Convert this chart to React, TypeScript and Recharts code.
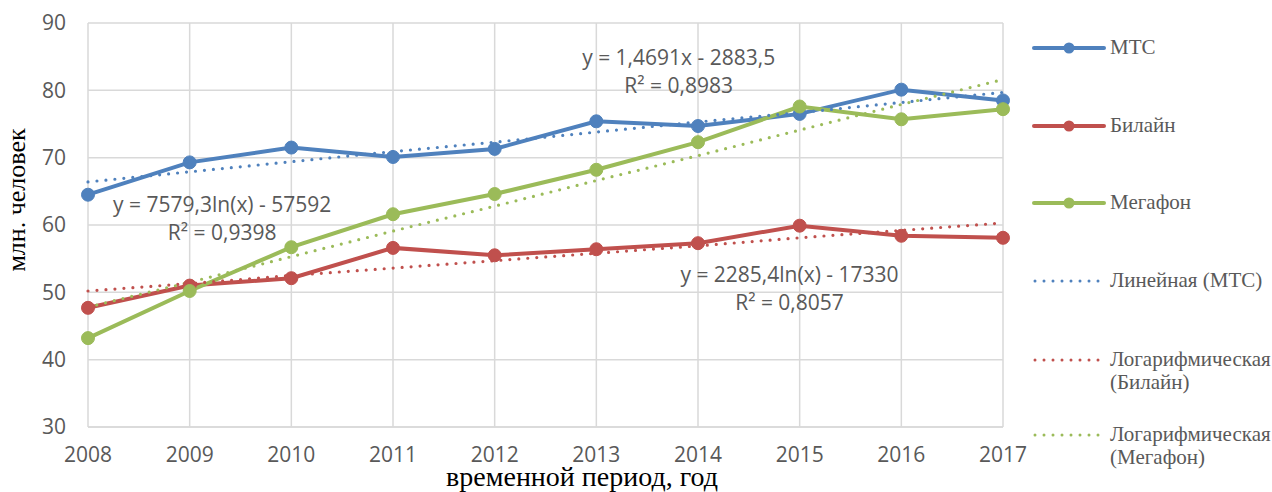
import React from "react";
import {
  CartesianGrid,
  Label,
  Legend,
  Line,
  LineChart,
  ReferenceDot,
  XAxis,
  YAxis,
} from "recharts";

const years = [2008, 2009, 2010, 2011, 2012, 2013, 2014, 2015, 2016, 2017];
const mts = [64.5, 69.3, 71.5, 70.1, 71.3, 75.4, 74.7, 76.5, 80.1, 78.5];
const beeline = [47.7, 51.0, 52.1, 56.6, 55.5, 56.4, 57.3, 59.9, 58.4, 58.1];
const megafon = [43.2, 50.2, 56.7, 61.6, 64.6, 68.2, 72.3, 77.6, 75.7, 77.2];

// trend lines
const mtsTrend = [66.4, 67.9, 69.4, 70.9, 72.3, 73.8, 75.3, 76.7, 78.2, 79.7];
const beelineTrend = [50.2, 51.3, 52.5, 53.6, 54.7, 55.8, 56.9, 58.1, 59.2, 60.3];
const megafonTrend = [47.8, 51.5, 55.3, 59.1, 62.8, 66.6, 70.3, 74.1, 77.9, 81.6];

const yTicks = [30, 40, 50, 60, 70, 80, 90];

const seriesNames = ["МТС", "Билайн", "Мегафон"];
const trendNames = [
  ["Линейная (МТС)"],
  ["Логарифмическая", "(Билайн)"],
  ["Логарифмическая", "(Мегафон)"],
];
const equations = [
  { x: 2013.81, y: 82.8, lines: ["y = 1,4691x - 2883,5", "R² = 0,8983"] },
  { x: 2009.32, y: 61.0, lines: ["y = 7579,3ln(x) - 57592", "R² = 0,9398"] },
  { x: 2014.9, y: 50.6, lines: ["y = 2285,4ln(x) - 17330", "R² = 0,8057"] },
];

const BLUE = "#4F81BD";
const RED = "#C0504D";
const GREEN = "#9BBB59";
const colors = [BLUE, RED, GREEN];
const GRID = "#D9D9D9";
const TEXT = "#595959";
const SANS = "'Open Sans', sans-serif";
const SERIF = "'Liberation Serif', 'Times New Roman', serif";

const data = years.map((year, i) => ({
  year,
  mts: mts[i],
  beeline: beeline[i],
  megafon: megafon[i],
  mtsTrend: mtsTrend[i],
  beelineTrend: beelineTrend[i],
  megafonTrend: megafonTrend[i],
}));

function EquationText(props: any) {
  const { cx, cy, lines } = props;
  return (
    <text x={cx} y={cy} textAnchor="middle" fontFamily={SANS} fontSize={21} fill={TEXT}>
      <tspan x={cx} dy={-6}>
        {lines[0]}
      </tspan>
      <tspan x={cx} dy={28}>
        {lines[1]}
      </tspan>
    </text>
  );
}

function ChartLegend() {
  const rows = [48, 126, 203, 281, 360, 435];
  const items = [
    ...seriesNames.map((n, i) => ({ lines: [n], color: colors[i], dotted: false })),
    ...trendNames.map((n, i) => ({ lines: n, color: colors[i], dotted: true })),
  ];
  return (
    <div style={{ position: "relative", width: 1272, height: 492 }}>
      {items.map((it, i) => (
        <div key={i}>
          <svg
            width={74}
            height={14}
            style={{ position: "absolute", left: 1032, top: rows[i] - 7 }}
          >
            {it.dotted ? (
              <line
                x1={3}
                x2={72}
                y1={7}
                y2={7}
                stroke={it.color}
                strokeWidth={3}
                strokeDasharray="0 9"
                strokeLinecap="round"
              />
            ) : (
              <>
                <line x1={2} x2={72} y1={7} y2={7} stroke={it.color} strokeWidth={4} strokeLinecap="round" />
                <circle cx={37} cy={7} r={5.5} fill={it.color} />
              </>
            )}
          </svg>
          <div
            style={{
              position: "absolute",
              left: 1110,
              top: rows[i] - 12,
              fontFamily: SERIF,
              fontSize: 21,
              lineHeight: "23px",
              color: TEXT,
              whiteSpace: "nowrap",
            }}
          >
            {it.lines.map((l, k) => (
              <div key={k}>{l}</div>
            ))}
          </div>
        </div>
      ))}
    </div>
  );
}

export default function App() {
  return (
    <div style={{ position: "relative", width: 1272, height: 492, overflow: "hidden", background: "#fff" }}>
      <style>{"html,body{margin:0;padding:0;overflow:hidden;}"}</style>
      <LineChart
        width={1272}
        height={492}
        data={data}
        margin={{ top: 23, right: 269, bottom: 0, left: 0 }}
      >
        <CartesianGrid stroke={GRID} strokeWidth={1.5} />
        <XAxis
          dataKey="year"
          type="number"
          domain={[2008, 2017]}
          ticks={years}
          height={65}
          tickLine={false}
          axisLine={{ stroke: GRID, strokeWidth: 1.5 }}
          tickSize={0}
          tickMargin={20}
          tick={{ fontSize: 21, fill: TEXT, fontFamily: SANS }}
        >
          <Label
            content={() => (
              <text x={582} y={486} textAnchor="middle" fontFamily={SERIF} fontSize={28} fill="#000">
                временной период, год
              </text>
            )}
          />
        </XAxis>
        <YAxis
          domain={[30, 90]}
          ticks={yTicks}
          width={88}
          tickLine={false}
          axisLine={false}
          tickSize={0}
          tickMargin={22}
          tick={{ fontSize: 21, fill: TEXT, fontFamily: SANS }}
        >
          <Label
            content={() => (
              <text
                x={0}
                y={0}
                transform="translate(25, 200) rotate(-90)"
                textAnchor="middle"
                fontFamily={SERIF}
                fontSize={26}
                fill="#000"
              >
                млн. человек
              </text>
            )}
          />
        </YAxis>
        <Line dataKey="mts" stroke={BLUE} strokeWidth={4} dot={{ r: 6.5, fill: BLUE, stroke: BLUE, strokeWidth: 1 }} isAnimationActive={false} />
        <Line dataKey="beeline" stroke={RED} strokeWidth={4} dot={{ r: 6.5, fill: RED, stroke: RED, strokeWidth: 1 }} isAnimationActive={false} />
        <Line dataKey="megafon" stroke={GREEN} strokeWidth={4} dot={{ r: 6.5, fill: GREEN, stroke: GREEN, strokeWidth: 1 }} isAnimationActive={false} />
        <Line dataKey="mtsTrend" stroke={BLUE} strokeWidth={3.2} strokeDasharray="0 9" strokeLinecap="round" dot={false} isAnimationActive={false} />
        <Line dataKey="beelineTrend" stroke={RED} strokeWidth={3.2} strokeDasharray="0 9" strokeLinecap="round" dot={false} isAnimationActive={false} />
        <Line dataKey="megafonTrend" stroke={GREEN} strokeWidth={3.2} strokeDasharray="0 9" strokeLinecap="round" dot={false} isAnimationActive={false} />
        {equations.map((e, i) => (
          <ReferenceDot
            key={i}
            x={e.x}
            y={e.y}
            r={1}
            shape={(p: any) => <EquationText cx={p.cx} cy={p.cy} lines={e.lines} />}
          />
        ))}
        <Legend
          content={() => <ChartLegend />}
          layout="horizontal"
          verticalAlign="middle"
          align="center"
          wrapperStyle={{ left: 0, top: 0, width: 1272, height: 492, pointerEvents: "none" }}
        />
      </LineChart>
    </div>
  );
}
